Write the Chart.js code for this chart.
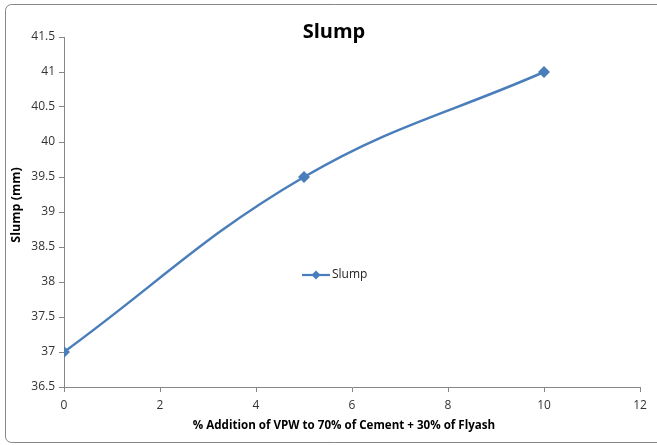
<!DOCTYPE html>
<html>
<head>
<meta charset="utf-8">
<script src="https://cdn.jsdelivr.net/npm/chart.js@4/dist/chart.umd.min.js"></script>
<style>
  body { margin: 0; background: #fff; }
  canvas { display: block; }
</style>
</head>
<body>
<canvas id="slumpChart" width="657" height="445"></canvas>
<script>
// data
const vpwPercent = [0, 5, 10];
const slumpValues = [37, 39.5, 41];
const xTicks = [0, 2, 4, 6, 8, 10, 12];
const yTicks = [36.5, 37, 37.5, 38, 38.5, 39, 39.5, 40, 40.5, 41, 41.5];

const FONT = "'Open Sans', 'Noto Sans', sans-serif";
const BLUE = "#4A7EBB";

// frame, title, axis titles and the legend placed inside the plot
const decorations = {
  id: "decorations",
  beforeDraw(chart) {
    const ctx = chart.ctx;
    ctx.save();
    ctx.fillStyle = "#fff";
    ctx.fillRect(0, 0, chart.width, chart.height);
    ctx.strokeStyle = "#868686";
    ctx.lineWidth = 1;
    ctx.beginPath();
    ctx.roundRect(5.5, 4.5, 660, 438, 6);
    ctx.stroke();
    ctx.restore();
  },
  afterDraw(chart) {
    const ctx = chart.ctx;
    ctx.save();
    ctx.fillStyle = "#000";
    ctx.textAlign = "center";
    ctx.textBaseline = "middle";
    ctx.font = "bold 20px " + FONT;
    ctx.fillText("Slump", 334, 32);

    ctx.font = "bold 11.6px " + FONT;
    ctx.fillText("% Addition of VPW to 70% of Cement + 30% of Flyash", 344, 426);

    ctx.translate(16, 205);
    ctx.rotate(-Math.PI / 2);
    ctx.font = "bold 12.5px " + FONT;
    ctx.fillText("Slump (mm)", 0, 0);
    ctx.restore();

    // legend
    const ds = chart.data.datasets[0];
    ctx.save();
    ctx.strokeStyle = BLUE;
    ctx.lineWidth = 2.25;
    ctx.beginPath();
    ctx.moveTo(302, 275);
    ctx.lineTo(330, 275);
    ctx.stroke();
    ctx.fillStyle = BLUE;
    ctx.beginPath();
    ctx.moveTo(316, 270.5); ctx.lineTo(320.5, 275); ctx.lineTo(316, 279.5); ctx.lineTo(311.5, 275);
    ctx.closePath();
    ctx.fill();
    ctx.fillStyle = "#222";
    ctx.font = "12px " + FONT;
    ctx.textAlign = "left";
    ctx.textBaseline = "middle";
    ctx.fillText(ds.label, 332, 275);
    ctx.restore();
  }
};

new Chart(document.getElementById("slumpChart"), {
  type: "line",
  data: {
    datasets: [
      {
        label: "Slump",
        data: vpwPercent.map((x, i) => ({ x, y: slumpValues[i] })),
        borderColor: BLUE,
        backgroundColor: BLUE,
        borderWidth: 2.5,
        pointStyle: "rectRot",
        pointRadius: 6,
        pointBorderWidth: 0,
        tension: 0.4,
        fill: false,
      },
    ],
  },
  options: {
    responsive: false,
    animation: false,
    devicePixelRatio: 1,
    layout: { padding: { top: 37, right: 17, left: 0, bottom: 0 } },
    plugins: {
      legend: { display: false },
      tooltip: { enabled: false },
    },
    scales: {
      x: {
        type: "linear",
        min: 0,
        max: 12,
        afterFit: (s) => { s.height = 58; },
        afterBuildTicks: (s) => { s.ticks = xTicks.map((v) => ({ value: v })); },
        grid: { drawOnChartArea: false, tickLength: 5, color: "#868686" },
        border: { color: "#868686" },
        ticks: { padding: 6, color: "#333", font: { family: FONT, size: 12 }, callback: (v) => String(v) },
      },
      y: {
        min: 36.5,
        max: 41.5,
        afterFit: (s) => { s.width = 64; },
        afterBuildTicks: (s) => { s.ticks = yTicks.map((v) => ({ value: v })); },
        grid: { drawOnChartArea: false, tickLength: 5, color: "#868686" },
        border: { color: "#868686" },
        ticks: { padding: 4, color: "#333", font: { family: FONT, size: 12 }, callback: (v) => String(v) },
      },
    },
  },
  plugins: [decorations],
});
</script>
</body>
</html>
